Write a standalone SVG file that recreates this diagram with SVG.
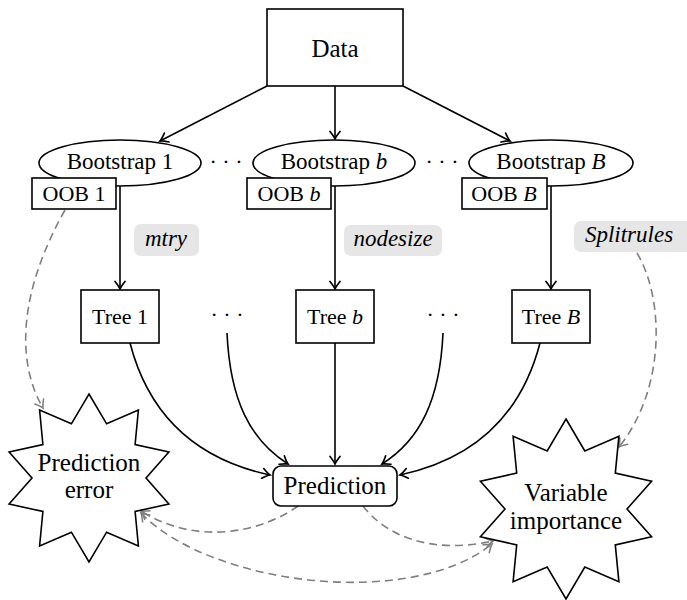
<svg xmlns="http://www.w3.org/2000/svg" width="687" height="600" viewBox="0 0 687 600">
  <defs>
    <style>
      .box { fill: #fff; stroke: #000; stroke-width: 1.6; }
      .tag { fill: #e6e6e6; stroke: none; }
      .t { font-family: "Liberation Serif", "Times New Roman", serif; font-size: 22px; text-anchor: middle; fill: #000; }
      .bs { font-size: 23px; }
      .big { font-size: 25px; }
      .it { font-style: italic; }
      .pm { font-size: 23px; font-style: italic; }
      .edge { fill: none; stroke: #000; stroke-width: 1.6; marker-end: url(#tip); }
      .dash { fill: none; stroke: #808080; stroke-width: 1.6; stroke-dasharray: 8 5; marker-end: url(#tipg); }
      .both { marker-start: url(#tipgs); }
    </style>
    <marker id="tip" viewBox="-9 -6 11 12" refX="0" refY="0" markerWidth="11" markerHeight="12" markerUnits="userSpaceOnUse" orient="auto">
      <path d="M-7.5,-5 Q-2.5,-1 0,0 Q-2.5,1 -7.5,5" fill="none" stroke="#000" stroke-width="1.7" stroke-linecap="round"/>
    </marker>
    <marker id="tipg" viewBox="-9 -6 11 12" refX="0" refY="0" markerWidth="11" markerHeight="12" markerUnits="userSpaceOnUse" orient="auto">
      <path d="M-7.5,-5 Q-2.5,-1 0,0 Q-2.5,1 -7.5,5" fill="none" stroke="#808080" stroke-width="1.6" stroke-linecap="round"/>
    </marker>
    <marker id="tipgs" viewBox="-9 -6 11 12" refX="0" refY="0" markerWidth="11" markerHeight="12" markerUnits="userSpaceOnUse" orient="auto-start-reverse">
      <path d="M-7.5,-5 Q-2.5,-1 0,0 Q-2.5,1 -7.5,5" fill="none" stroke="#808080" stroke-width="1.6" stroke-linecap="round"/>
    </marker>
  </defs>

  <rect width="687" height="600" fill="#fff"/>

  <!-- connectors -->
  <g id="connectors">
    <!-- data to bootstrap samples -->
    <path class="edge" d="M267,86 L160,141"/>
    <path class="edge" d="M335,86 L335,139"/>
    <path class="edge" d="M403,86 L510,141"/>
    <!-- bootstrap samples to trees -->
    <path class="edge" d="M120,186 L120,289"/>
    <path class="edge" d="M335,186 L335,289"/>
    <path class="edge" d="M551,186 L551,289"/>
    <!-- trees to prediction -->
    <path class="edge" d="M130,343 C150,420 200,460 270,475"/>
    <path class="edge" d="M227,333 C230,400 250,440 288,464"/>
    <path class="edge" d="M335,343 L335,464"/>
    <path class="edge" d="M443,333 C440,400 420,440 382,464"/>
    <path class="edge" d="M540,343 C520,420 470,460 400,475"/>
    <!-- dashed feedback links -->
    <path class="dash" d="M65,210 C20,290 15,360 43,408"/>
    <path class="dash" d="M637,253 C665,300 665,390 619,447"/>
    <path class="dash" d="M298,506 C265,530 200,548 141,511"/>
    <path class="dash" d="M363,506 C385,535 430,555 493,541"/>
    <path class="dash both" d="M141,513 C210,585 410,610 492,544"/>
  </g>

  <g id="data">
    <rect class="box" x="267" y="9" width="136" height="77"/>
    <text class="t big" x="335" y="57">Data</text>
  </g>

  <g id="bootstrap-1">
    <ellipse class="box" cx="120" cy="163" rx="81" ry="23"/>
    <text class="t bs" x="120" y="169">Bootstrap 1</text>
  </g>
  <g id="oob-1">
    <rect class="box" x="32" y="178" width="84" height="31"/>
    <text class="t" x="74" y="201">OOB 1</text>
  </g>

  <g id="dots-top-1"><text class="t" x="226" y="169">· · ·</text></g>

  <g id="bootstrap-b">
    <ellipse class="box" cx="334" cy="163" rx="81" ry="23"/>
    <text class="t bs" x="334" y="169">Bootstrap <tspan class="it">b</tspan></text>
  </g>
  <g id="oob-b">
    <rect class="box" x="247" y="178" width="84" height="31"/>
    <text class="t" x="289" y="201">OOB <tspan class="it">b</tspan></text>
  </g>

  <g id="dots-top-2"><text class="t" x="442" y="169">· · ·</text></g>

  <g id="bootstrap-B">
    <ellipse class="box" cx="551" cy="163" rx="82" ry="23"/>
    <text class="t bs" x="551" y="169">Bootstrap <tspan class="it">B</tspan></text>
  </g>
  <g id="oob-B">
    <rect class="box" x="462" y="178" width="85" height="31"/>
    <text class="t" x="504" y="201">OOB <tspan class="it">B</tspan></text>
  </g>

  <g id="param-mtry">
    <rect class="tag" x="134" y="224" width="65" height="32" rx="7"/>
    <text class="t pm" x="166" y="246">mtry</text>
  </g>
  <g id="param-nodesize">
    <rect class="tag" x="344" y="225" width="98" height="31" rx="7"/>
    <text class="t pm" x="393" y="246">nodesize</text>
  </g>
  <g id="param-splitrules">
    <rect class="tag" x="574" y="221" width="120" height="31" rx="7"/>
    <text class="t pm" x="629" y="242">Splitrules</text>
  </g>

  <g id="tree-1">
    <rect class="box" x="81" y="290" width="78" height="53"/>
    <text class="t" x="120" y="324">Tree 1</text>
  </g>
  <g id="dots-tree-1"><text class="t" x="227" y="322">· · ·</text></g>
  <g id="tree-b">
    <rect class="box" x="296" y="290" width="78" height="53"/>
    <text class="t" x="335" y="324">Tree <tspan class="it">b</tspan></text>
  </g>
  <g id="dots-tree-2"><text class="t" x="443" y="322">· · ·</text></g>
  <g id="tree-B">
    <rect class="box" x="512" y="290" width="78" height="53"/>
    <text class="t" x="551" y="324">Tree <tspan class="it">B</tspan></text>
  </g>

  <g id="prediction">
    <rect class="box" x="273" y="466" width="124" height="40" rx="8"/>
    <text class="t big" x="335" y="494">Prediction</text>
  </g>

  <g id="prediction-error">
    <polygon class="box" points="89,394 106.6,423.8 138.4,410 135.1,444.5 168.9,452 146,478 168.9,504 135.1,511.5 138.4,546 106.6,532.2 89,562 71.4,532.2 39.6,546 42.9,511.5 9.1,504 32,478 9.1,452 42.9,444.5 39.6,410 71.4,423.8"/>
    <text class="t big" x="89" y="471">Prediction</text>
    <text class="t big" x="89" y="498">error</text>
  </g>

  <g id="variable-importance">
    <polygon class="box" points="566,419 584.8,451 618.9,436.2 615.3,473.1 651.6,481.2 627,509 651.6,536.8 615.3,544.9 618.9,581.8 584.8,567 566,599 547.2,567 513.1,581.8 516.7,544.9 480.4,536.8 505,509 480.4,481.2 516.7,473.1 513.1,436.2 547.2,451"/>
    <text class="t big" x="566" y="501">Variable</text>
    <text class="t big" x="566" y="529">importance</text>
  </g>
</svg>
